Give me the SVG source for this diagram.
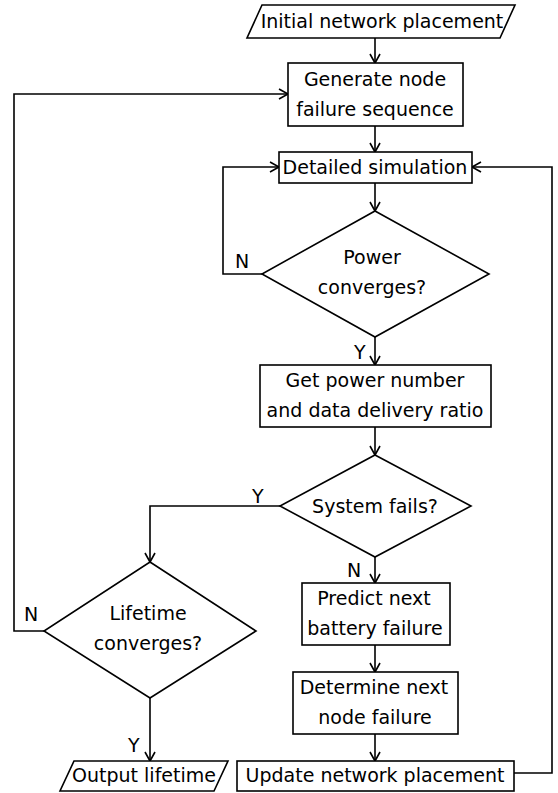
<svg xmlns="http://www.w3.org/2000/svg" width="558" height="793" viewBox="0 0 558 793">
<style>
.s{fill:#fff;stroke:#000;stroke-width:1.6}
.t{font-family:"DejaVu Sans",sans-serif;font-size:19px;text-anchor:middle;fill:#000}
.l{font-family:"DejaVu Sans",sans-serif;font-size:19px;fill:#000}
.c{fill:none;stroke:#000;stroke-width:1.6}
</style>
<defs>
<marker id="a" markerUnits="userSpaceOnUse" markerWidth="14" markerHeight="14" refX="10" refY="6" orient="auto">
<path d="M1,1 L10,6 L1,11" fill="none" stroke="#000" stroke-width="1.6"/>
</marker>
</defs>
<g id="connectors">
<path class="c" d="M375,38 V63" marker-end="url(#a)"/>
<path class="c" d="M375,126 V152" marker-end="url(#a)"/>
<path class="c" d="M375,183 V211" marker-end="url(#a)"/>
<path class="c" d="M262,274 H223 V167 H279" marker-end="url(#a)"/>
<path class="c" d="M375,337 V365" marker-end="url(#a)"/>
<path class="c" d="M375,427 V455" marker-end="url(#a)"/>
<path class="c" d="M280,506 H150 V562" marker-end="url(#a)"/>
<path class="c" d="M375,557 V583" marker-end="url(#a)"/>
<path class="c" d="M375,645 V672" marker-end="url(#a)"/>
<path class="c" d="M375,734 V761" marker-end="url(#a)"/>
<path class="c" d="M150,698 V761" marker-end="url(#a)"/>
<path class="c" d="M44,631 H14 V94 H288" marker-end="url(#a)"/>
<path class="c" d="M514,773 H552 V167 H472" marker-end="url(#a)"/>
<text class="l" x="235" y="268">N</text>
<text class="l" x="354" y="359">Y</text>
<text class="l" x="252" y="503">Y</text>
<text class="l" x="347" y="577">N</text>
<text class="l" x="24" y="621">N</text>
<text class="l" x="128" y="752">Y</text>
</g>
<g id="n1">
<path class="s" d="M262,5 H515 L500,38 H247 Z"/>
<text class="t" x="382" y="28">Initial network placement</text>
</g>
<g id="n2">
<rect class="s" x="288" y="63" width="175" height="63"/>
<text class="t" x="375" y="86">Generate node</text>
<text class="t" x="375" y="116">failure sequence</text>
</g>
<g id="n3">
<rect class="s" x="279" y="152" width="193" height="31"/>
<text class="t" x="375" y="174">Detailed simulation</text>
</g>
<g id="n4">
<path class="s" d="M375,211 L489,274 L375,337 L262,274 Z"/>
<text class="t" x="372" y="264">Power</text>
<text class="t" x="372" y="294">converges?</text>
</g>
<g id="n5">
<rect class="s" x="260" y="365" width="231" height="62"/>
<text class="t" x="375" y="387">Get power number</text>
<text class="t" x="375" y="417">and data delivery ratio</text>
</g>
<g id="n6">
<path class="s" d="M375,455 L471,506 L375,557 L280,506 Z"/>
<text class="t" x="375" y="513">System fails?</text>
</g>
<g id="n7">
<path class="s" d="M150,562 L256,631 L150,698 L44,631 Z"/>
<text class="t" x="148" y="620">Lifetime</text>
<text class="t" x="148" y="650">converges?</text>
</g>
<g id="n8">
<rect class="s" x="302" y="583" width="148" height="62"/>
<text class="t" x="374" y="605">Predict next</text>
<text class="t" x="375" y="635">battery failure</text>
</g>
<g id="n9">
<rect class="s" x="293" y="672" width="165" height="62"/>
<text class="t" x="374" y="694">Determine next</text>
<text class="t" x="375" y="724">node failure</text>
</g>
<g id="n10">
<path class="s" d="M74,761 H228 L214,791 H60 Z"/>
<text class="t" x="144" y="782">Output lifetime</text>
</g>
<g id="n11">
<rect class="s" x="237" y="761" width="277" height="30"/>
<text class="t" x="375" y="782">Update network placement</text>
</g>
</svg>
